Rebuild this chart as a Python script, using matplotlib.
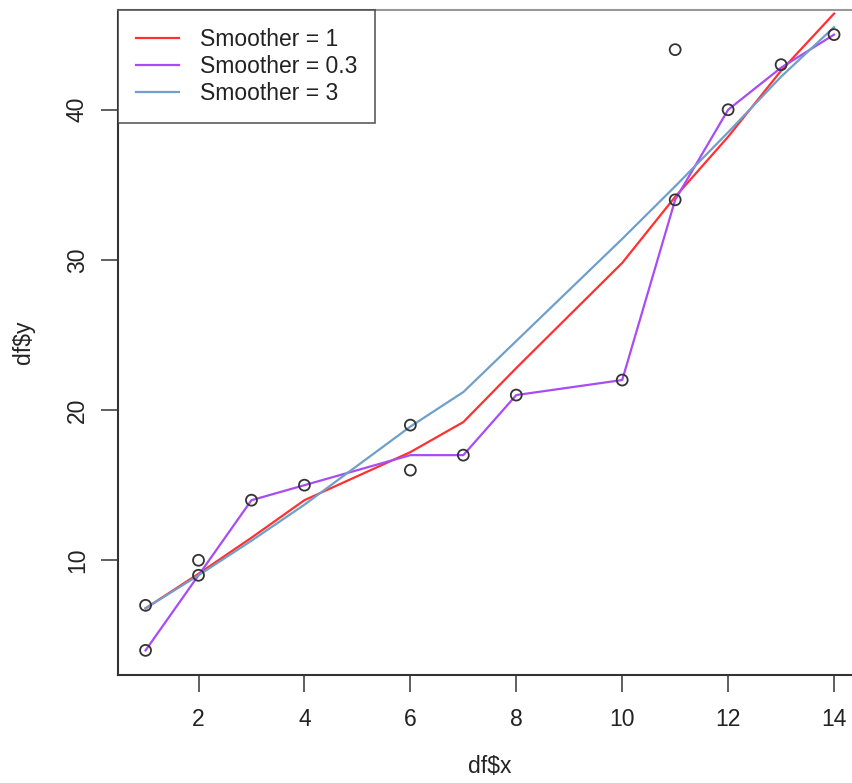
import matplotlib
matplotlib.use("Agg")
import matplotlib.pyplot as plt

plt.rcParams['font.family'] = ['Liberation Sans', 'DejaVu Sans']

# scatter data
pts_x = [1, 1, 2, 2, 3, 4, 6, 6, 7, 8, 10, 11, 11, 12, 13, 14]
pts_y = [7, 4, 10, 9, 14, 15, 19, 16, 17, 21, 22, 44, 34, 40, 43, 45]

# smoother curves
sm_x = [1, 2, 3, 4, 6, 7, 8, 10, 11, 12, 13, 14]
sm1_y = [6.8, 9.1, 11.5, 14.0, 17.2, 19.2, 22.8, 29.8, 34.2, 38.2, 42.6, 46.4]
sm03_y = [4.0, 9.0, 14.0, 15.0, 17.0, 17.0, 21.0, 22.0, 34.0, 40.0, 42.8, 45.0]
sm3_y = [6.8, 9.0, 11.3, 13.7, 18.9, 21.2, 24.6, 31.4, 34.9, 38.5, 42.2, 45.5]

labels = ["Smoother = 1", "Smoother = 0.3", "Smoother = 3"]
colors = ["#ff3030", "#a84cf5", "#6f9fca"]

FS = 16.5
W, H = 853, 783
fig = plt.figure(figsize=(W / 100, H / 100), dpi=100)
ax = fig.add_axes([118 / W, 1 - 675 / H, (861.6 - 118) / W, (675 - 10) / H])

ax.scatter(pts_x, pts_y, s=62, facecolors='none', edgecolors='#333333',
           linewidths=1.3, zorder=3)
l1, = ax.plot(sm_x, sm1_y, color=colors[0], lw=1.6, label=labels[0])
l2, = ax.plot(sm_x, sm03_y, color=colors[1], lw=1.6, label=labels[1])
l3, = ax.plot(sm_x, sm3_y, color=colors[2], lw=1.6, label=labels[2])

ax.set_xlim(0.48, 14.52)
ax.set_ylim(2.36, 46.64)
ax.set_xticks([2, 4, 6, 8, 10, 12, 14])
ax.set_yticks([10, 20, 30, 40])
ax.tick_params(axis='both', labelsize=FS, length=12, width=1.2,
               color='#444444', labelcolor='#222222')
ax.tick_params(axis='x', pad=12)
ax.tick_params(axis='y', pad=9)
for lab in ax.get_yticklabels():
    lab.set_rotation(90)
    lab.set_va('center')

for side in ['left', 'bottom']:
    ax.spines[side].set_color('#333333')
    ax.spines[side].set_linewidth(1.5)
ax.spines['top'].set_color('#999999')
ax.spines['top'].set_linewidth(1.5)
ax.spines['right'].set_visible(False)

ax.set_xlabel("df$x", fontsize=FS, color='#222222', labelpad=17)
ax.set_ylabel("df$y", fontsize=FS, color='#222222', labelpad=22)

leg = ax.legend(handles=[l1, l2, l3], loc='upper left', bbox_to_anchor=(0, 1),
                borderaxespad=0, fontsize=FS, frameon=True, fancybox=False,
                edgecolor='#333333', handlelength=1.9, handletextpad=0.9,
                labelspacing=0.18, borderpad=0.78)
leg.get_frame().set_linewidth(1.2)
for t in leg.get_texts():
    t.set_color('#222222')

fig.savefig("out.png", dpi=100)
